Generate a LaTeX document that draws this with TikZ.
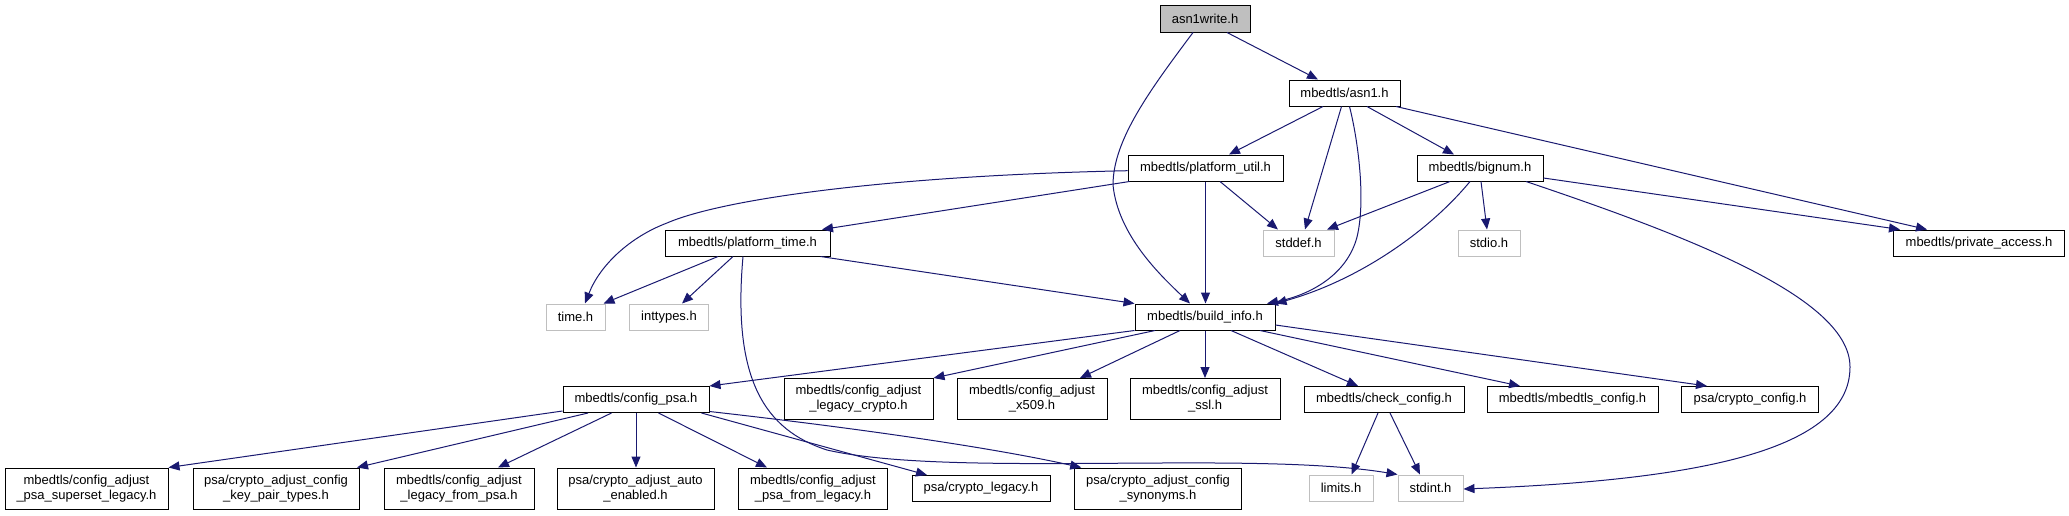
\documentclass[tikz,border=0pt]{standalone}
\usepackage{fontspec}
\setmainfont{Liberation Sans}
\usetikzlibrary{arrows.meta}
\definecolor{edgeblue}{HTML}{191970}
\definecolor{nodegray}{HTML}{BFBFBF}
\begin{document}
\begin{tikzpicture}[x=1pt,y=-1pt,
  box/.style={draw=black, line width=1pt, rectangle, inner sep=0pt, font=\fontsize{13}{15}\selectfont, align=center, fill=white, minimum height=26pt},
  boxtwo/.style={box, minimum height=41pt},
  sysbox/.style={box, draw=nodegray},
  rootbox/.style={box, fill=nodegray},
  edge/.style={draw=edgeblue, line width=1pt, -{Triangle[length=11pt,width=9pt]}}]
\useasboundingbox (0,0) rectangle (2069,515);
% nodes
\node[rootbox, minimum width=90pt, minimum height=27pt] (asn1write) at (1205,18.5) {asn1write.h};
\node[box, minimum width=111pt] (asn1) at (1344.5,93) {mbedtls/asn1.h};
\node[box, minimum width=155pt] (putil) at (1205.5,168) {mbedtls/platform\_util.h};
\node[box, minimum width=126pt] (bignum) at (1480,168) {mbedtls/bignum.h};
\node[box, minimum width=165pt] (ptime) at (747.5,243) {mbedtls/platform\_time.h};
\node[sysbox, minimum width=71pt] (stddef) at (1298.5,243) {stddef.h};
\node[sysbox, minimum width=62pt] (stdio) at (1489,243) {stdio.h};
\node[box, minimum width=171pt] (private) at (1979,243) {mbedtls/private\_access.h};
\node[sysbox, minimum width=59pt] (timeh) at (575.5,317) {time.h};
\node[sysbox, minimum width=79.5pt] (inttypes) at (669,317) {inttypes.h};
\node[box, minimum width=140pt] (buildinfo) at (1205,317) {mbedtls/build\_info.h};
\node[box, minimum width=146pt] (configpsa) at (636,399.5) {mbedtls/config\_psa.h};
\node[boxtwo, minimum width=149pt] (legcrypto) at (858.5,399) {mbedtls/config\_adjust\\\_legacy\_crypto.h};
\node[boxtwo, minimum width=150pt] (x509) at (1032,399) {mbedtls/config\_adjust\\\_x509.h};
\node[boxtwo, minimum width=150pt] (ssl) at (1205,399) {mbedtls/config\_adjust\\\_ssl.h};
\node[box, minimum width=160pt] (checkconfig) at (1384,399.5) {mbedtls/check\_config.h};
\node[box, minimum width=171pt] (mbedconfig) at (1572.5,399.5) {mbedtls/mbedtls\_config.h};
\node[box, minimum width=136.5pt] (cryptoconfig) at (1750,399.5) {psa/crypto\_config.h};
\node[boxtwo, minimum width=163pt] (superset) at (86.5,488.5) {mbedtls/config\_adjust\\\_psa\_superset\_legacy.h};
\node[boxtwo, minimum width=166pt] (keypair) at (276,488.5) {psa/crypto\_adjust\_config\\\_key\_pair\_types.h};
\node[boxtwo, minimum width=150pt] (legfrompsa) at (459,488.5) {mbedtls/config\_adjust\\\_legacy\_from\_psa.h};
\node[boxtwo, minimum width=157pt] (autoenabled) at (635.5,488.5) {psa/crypto\_adjust\_auto\\\_enabled.h};
\node[boxtwo, minimum width=148.5pt] (psafromleg) at (813,488.5) {mbedtls/config\_adjust\\\_psa\_from\_legacy.h};
\node[box, minimum width=138pt] (cryptolegacy) at (981,488.5) {psa/crypto\_legacy.h};
\node[boxtwo, minimum width=166.5pt] (synonyms) at (1158,488.5) {psa/crypto\_adjust\_config\\\_synonyms.h};
\node[sysbox, minimum width=64pt] (limits) at (1341,488) {limits.h};
\node[sysbox, minimum width=65pt] (stdint) at (1430.5,488) {stdint.h};
% edges
\draw[edge] ([xshift=22pt]asn1write.south) -- ([xshift=-26.5pt]asn1.north);
\draw[edge] ([xshift=-12pt]asn1write.south) .. controls (1150,90) and (1113,140) .. (1113,185) .. controls (1118,235) and (1160,275) .. ([xshift=-15pt]buildinfo.north);
\draw[edge] ([xshift=-21.5pt]asn1.south) -- ([xshift=23.5pt]putil.north);
\draw[edge] ([xshift=-3pt]asn1.south) -- ([xshift=6.5pt]stddef.north);
\draw[edge] ([xshift=5pt]asn1.south) .. controls (1358,140) and (1366,200) .. (1357,237) .. controls (1347,275) and (1310,295) .. ([xshift=62pt]buildinfo.north);
\draw[edge] ([xshift=22.5pt]asn1.south) -- ([xshift=-26pt]bignum.north);
\draw[edge] ([xshift=51.5pt]asn1.south) -- ([xshift=-52pt]private.north);
\draw[edge] ([yshift=-2.7pt]putil.west) .. controls (880,176) and (720,200) .. (667,223) .. controls (630,237) and (600,265) .. ([xshift=9.5pt]timeh.north);
\draw[edge] ([xshift=2pt]putil.south west) -- ([xshift=74.5pt]ptime.north);
\draw[edge] (putil.south) -- (putil.south |- buildinfo.north);
\draw[edge] ([xshift=14.5pt]putil.south) -- ([xshift=-20.5pt]stddef.north);
\draw[edge] ([xshift=-30pt]bignum.south) -- ([xshift=28.5pt]stddef.north);
\draw[edge] ([xshift=-10pt]bignum.south) .. controls (1430,230) and (1360,280) .. (buildinfo.north east);
\draw[edge] ([xshift=1pt]bignum.south) -- ([xshift=-2pt]stdio.north);
\draw[edge] ([yshift=-10pt]bignum.east) -- ([xshift=-79pt]private.north);
\draw[edge] ([xshift=46pt]bignum.south) .. controls (1700,240) and (1850,300) .. (1850,367) .. controls (1850,450) and (1700,480) .. ([yshift=-1pt]stdint.east);
\draw[edge] ([xshift=-29.5pt]ptime.south) -- ([xshift=28pt]timeh.north);
\draw[edge] ([xshift=-14.5pt]ptime.south) -- ([xshift=13pt]inttypes.north);
\draw[edge] ([xshift=-4.5pt]ptime.south) .. controls (732,380) and (765,430) .. (827,450) .. controls (950,478) and (1250,450) .. (stdint.north west);
\draw[edge] ([xshift=-10pt]ptime.south east) -- (buildinfo.north west);
\draw[edge] (buildinfo.south west) -- (configpsa.north east);
\draw[edge] ([xshift=-50pt]buildinfo.south) -- (legcrypto.north east);
\draw[edge] ([xshift=-25pt]buildinfo.south) -- ([xshift=48pt]x509.north);
\draw[edge] (buildinfo.south) -- (buildinfo.south |- ssl.north);
\draw[edge] ([xshift=26pt]buildinfo.south) -- ([xshift=-26pt]checkconfig.north);
\draw[edge] ([xshift=55pt]buildinfo.south) -- ([xshift=-52.5pt]mbedconfig.north);
\draw[edge] ([yshift=-8pt]buildinfo.east) -- ([xshift=-43pt]cryptoconfig.north);
\draw[edge] ([yshift=2pt]configpsa.south west) -- (superset.north east);
\draw[edge] ([xshift=-48pt]configpsa.south) -- ([xshift=81pt]keypair.north);
\draw[edge] ([xshift=-24.5pt]configpsa.south) -- ([xshift=39pt]legfrompsa.north);
\draw[edge] (configpsa.south) -- (configpsa.south |- autoenabled.north);
\draw[edge] ([xshift=22.5pt]configpsa.south) -- ([xshift=-46pt]psafromleg.north);
\draw[edge] ([xshift=-8pt]configpsa.south east) -- ([xshift=-54pt]cryptolegacy.north);
\draw[edge] ([yshift=1.5pt]configpsa.south east) .. controls (830,425) and (980,445) .. ([xshift=7pt]synonyms.north west);
\draw[edge] ([xshift=-6pt]checkconfig.south) -- ([xshift=10.5pt]limits.north);
\draw[edge] ([xshift=6pt]checkconfig.south) -- ([xshift=-10.5pt]stdint.north);
\end{tikzpicture}
\end{document}
